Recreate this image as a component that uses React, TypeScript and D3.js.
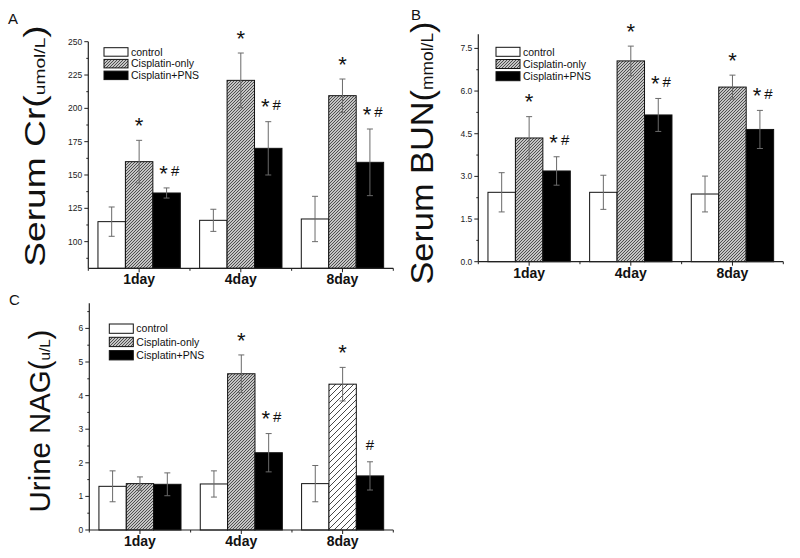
import React from 'react';
import * as d3 from 'd3';

const FONT = '"Liberation Sans", Arial, Helvetica, sans-serif';

const days = ['1day', '4day', '8day'];
const seriesNames = ['control', 'Cisplatin-only', 'Cisplatin+PNS'];

// Panel A: Serum Cr (umol/L)
const crControl = [115, 116, 117];
const crControlSd = [11, 8.3, 17];
const crCis = [160, 221, 209.5];
const crCisSd = [16, 20.5, 12.5];
const crPns = [136.5, 170, 159.5];
const crPnsSd = [3.8, 20, 25];
const crTicks = [100, 125, 150, 175, 200, 225, 250];
const crMarks = [['', '*', '*#'], ['', '*', '*#'], ['', '*', '*#']];

// Panel B: Serum BUN (mmol/L)
const bunControl = [2.44, 2.44, 2.38];
const bunControlSd = [0.69, 0.6, 0.63];
const bunCis = [4.35, 7.06, 6.14];
const bunCisSd = [0.75, 0.52, 0.42];
const bunPns = [3.19, 5.16, 4.65];
const bunPnsSd = [0.5, 0.58, 0.67];
const bunTicks = [0, 1.5, 3, 4.5, 6, 7.5];
const bunMarks = [['', '*', '*#'], ['', '*', '*#'], ['', '*', '*#']];

// Panel C: Urine NAG (u/L)
const nagControl = [1.3, 1.37, 1.38];
const nagControlSd = [0.46, 0.39, 0.54];
const nagCis = [1.38, 4.65, 4.34];
const nagCisSd = [0.2, 0.56, 0.5];
const nagPns = [1.36, 2.3, 1.61];
const nagPnsSd = [0.34, 0.57, 0.42];
const nagTicks = [0, 1, 2, 3, 4, 5, 6];
const nagMarks = [['', '', ''], ['', '*', '*#'], ['', '*', '#']];

type PanelCfg = {
  letter: string; letterX: number; letterY: number;
  x0: number; x1: number; yBottom: number; yTop: number; domain: [number, number];
  ticks: number[]; minorStep: number; fmt: (v: number) => string;
  means: number[][]; sds: number[][]; marks: string[][];
  label: [string, string, string]; labelX: number; labelY: number; labelBig: number; labelSmall: number; labelStretch: number;
  legX: number; legY: number; legStep: number; legH: number;
  sparse?: [number, number][];
};

const panels: PanelCfg[] = [
  {
    letter: 'A', letterX: 8, letterY: 24,
    x0: 88.3, x1: 393.3, yBottom: 268.3, yTop: 41.7, domain: [80, 250],
    ticks: crTicks, minorStep: 12.5, fmt: d3.format('d'),
    means: [crControl, crCis, crPns], sds: [crControlSd, crCisSd, crPnsSd], marks: crMarks,
    label: ['Serum Cr(', 'umol/L', ')'], labelX: 45, labelY: 146, labelBig: 30, labelSmall: 15.5, labelStretch: 1.24,
    legX: 104, legY: 47.7, legStep: 11.7, legH: 8.5,
  },
  {
    letter: 'B', letterX: 411, letterY: 20,
    x0: 478.3, x1: 783.3, yBottom: 261.7, yTop: 261.7 - 8 * 28.44, domain: [0, 8],
    ticks: bunTicks, minorStep: 0.75, fmt: d3.format('.1f'),
    means: [bunControl, bunCis, bunPns], sds: [bunControlSd, bunCisSd, bunPnsSd], marks: bunMarks,
    label: ['Serum BUN(', 'mmol/L', ')'], labelX: 433, labelY: 153, labelBig: 31.5, labelSmall: 16, labelStretch: 1.09,
    legX: 496, legY: 47.3, legStep: 12.2, legH: 9,
  },
  {
    letter: 'C', letterX: 9, letterY: 305,
    x0: 89.3, x1: 393.3, yBottom: 530, yTop: 530 - 6.75 * 33.6, domain: [0, 6.75],
    ticks: nagTicks, minorStep: 0.5, fmt: d3.format('d'),
    means: [nagControl, nagCis, nagPns], sds: [nagControlSd, nagCisSd, nagPnsSd], marks: nagMarks,
    label: ['Urine NAG(', 'u/L', ')'], labelX: 49.5, labelY: 421, labelBig: 30, labelSmall: 15.5, labelStretch: 0.98,
    legX: 109.3, legY: 324, legStep: 13.3, legH: 9.3,
    sparse: [[1, 2]],
  },
];

const fills = ['#ffffff', 'url(#hatchDense)', '#000000'];

function Panel({ p }: { p: PanelCfg }) {
  const x = d3.scaleBand<string>().domain(days).range([p.x0, p.x1]).paddingInner(0).paddingOuter(0);
  const y = d3.scaleLinear().domain(p.domain).range([p.yBottom, p.yTop]);
  const bw = x.bandwidth() * 0.27;
  const minor = d3.range(p.ticks[0] - p.minorStep, p.domain[1] + 1e-9, p.minorStep)
    .filter((v) => v >= p.domain[0] && v <= p.domain[1] && !p.ticks.some((t) => Math.abs(t - v) < 1e-9));
  const boundaries = d3.range(days.length + 1).map((i) => p.x0 + i * x.bandwidth());
  const isSparse = (s: number, g: number) => (p.sparse || []).some(([ss, gg]) => ss === s && gg === g);

  const bars: any[] = [];
  const errs: any[] = [];
  const marks: any[] = [];
  days.forEach((d, g) => {
    const cx = (x(d) as number) + x.bandwidth() / 2;
    p.means.forEach((vals, s) => {
      const bx = cx + (s - 1.5) * bw;
      const v = vals[g];
      const sd = p.sds[s][g];
      const fill = s === 1 && isSparse(s, g) ? 'url(#hatchSparse)' : fills[s];
      bars.push(
        <rect key={`b${g}${s}`} x={bx} y={y(v)} width={bw} height={y(p.domain[0]) - y(v)}
          fill={fill} stroke="#111" strokeWidth={1} />
      );
      const ex = bx + bw / 2;
      const yt = y(v + sd);
      const yb = y(v - sd);
      errs.push(
        <g key={`e${g}${s}`} stroke="#6a6a6a" strokeWidth={1}>
          <line x1={ex} x2={ex} y1={yt} y2={yb} />
          <line x1={ex - 3} x2={ex + 3} y1={yt} y2={yt} />
          <line x1={ex - 3} x2={ex + 3} y1={yb} y2={yb} />
        </g>
      );
      const m = p.marks[g][s];
      if (m) {
        const cy = yt - 20;
        const hasStar = m.includes('*');
        const hasHash = m.includes('#');
        const starX = hasHash ? ex - 3 : ex;
        const hashX = hasStar ? ex + 8.5 : ex;
        if (hasStar) {
          marks.push(
            <text key={`s${g}${s}`} x={starX} y={cy + 0.58 * 22} fontSize={22} textAnchor="middle" fill="#111">*</text>
          );
        }
        if (hasHash) {
          marks.push(
            <text key={`h${g}${s}`} x={hashX} y={cy + 0.36 * 15 + 3} fontSize={15} textAnchor="middle" fill="#111">#</text>
          );
        }
      }
    });
  });

  return (
    <g fontFamily={FONT}>
      <text x={p.letterX} y={p.letterY} fontSize={15} fill="#111">{p.letter}</text>
      <text transform={`translate(${p.labelX},${p.labelY}) rotate(-90) scale(${p.labelStretch},1)`}
        textAnchor="middle" fontSize={p.labelBig} fill="#111">
        {p.label[0]}<tspan fontSize={p.labelSmall}>{p.label[1]}</tspan>{p.label[2]}
      </text>
      {bars}
      {errs}
      {marks}
      <line x1={p.x0} x2={p.x0} y1={p.yBottom} y2={p.yTop} stroke="#222" strokeWidth={1.2} />
      <line x1={p.x0} x2={p.x1} y1={p.yBottom} y2={p.yBottom} stroke="#222" strokeWidth={1.2} />
      {p.ticks.map((t) => (
        <g key={`yt${t}`}>
          <line x1={p.x0 - 4} x2={p.x0} y1={y(t)} y2={y(t)} stroke="#222" strokeWidth={1} />
          <text x={p.x0 - 6} y={y(t) + 3} fontSize={8.5} textAnchor="end" fill="#222">{p.fmt(t)}</text>
        </g>
      ))}
      {minor.map((t) => (
        <line key={`ym${t}`} x1={p.x0 - 2} x2={p.x0} y1={y(t)} y2={y(t)} stroke="#222" strokeWidth={1} />
      ))}
      {days.map((d) => {
        const cx = (x(d) as number) + x.bandwidth() / 2;
        return (
          <g key={`xt${d}`}>
            <line x1={cx} x2={cx} y1={p.yBottom} y2={p.yBottom + 4} stroke="#222" strokeWidth={1} />
            <text x={cx} y={p.yBottom + 16} fontSize={14} fontWeight="bold" textAnchor="middle" fill="#111">{d}</text>
          </g>
        );
      })}
      {boundaries.map((bx, i) => (
        <line key={`xm${i}`} x1={bx} x2={bx} y1={p.yBottom} y2={p.yBottom + 2.5} stroke="#222" strokeWidth={1} />
      ))}
      {seriesNames.map((n, i) => {
        const ry = p.legY + i * p.legStep;
        return (
          <g key={`lg${n}`}>
            <rect x={p.legX} y={ry} width={24} height={p.legH} fill={fills[i]} stroke="#111" strokeWidth={1} />
            <text x={p.legX + 27} y={ry + p.legH / 2 + 3.7} fontSize={10.5} fill="#111">{n}</text>
          </g>
        );
      })}
    </g>
  );
}

export default function App() {
  return (
    <svg width={800} height={558} viewBox="0 0 800 558"
      style={{ position: 'absolute', left: 0, top: 0, background: '#fff' }}>
      <defs>
        <pattern id="hatchDense" patternUnits="userSpaceOnUse" width={3} height={3}>
          <rect width={3} height={3} fill="#c4c4c4" />
          <path d="M-0.75,0.75 L0.75,-0.75 M0,3 L3,0 M2.25,3.75 L3.75,2.25" stroke="#3a3a3a" strokeWidth={0.85} />
        </pattern>
        <pattern id="hatchSparse" patternUnits="userSpaceOnUse" width={6} height={6}>
          <rect width={6} height={6} fill="#fff" />
          <path d="M-1.5,1.5 L1.5,-1.5 M0,6 L6,0 M4.5,7.5 L7.5,4.5" stroke="#333" strokeWidth={0.9} />
        </pattern>
      </defs>
      <rect width={800} height={558} fill="#fff" />
      {panels.map((p) => <Panel key={p.letter} p={p} />)}
    </svg>
  );
}
